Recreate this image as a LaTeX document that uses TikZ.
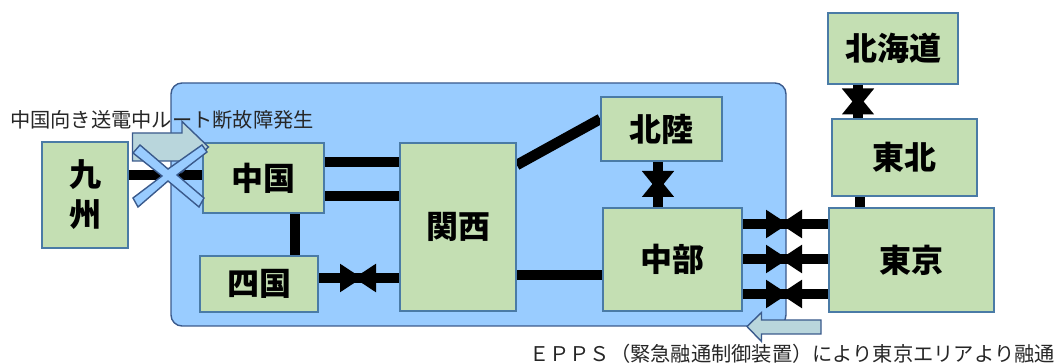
\documentclass[tikz,border=0pt]{standalone}
\usepackage{fontspec}
\setmainfont{Noto Sans CJK JP}
\usetikzlibrary{arrows.meta}
\pgfdeclarelayer{links}
\pgfsetlayers{links,main}
\definecolor{panelblue}{HTML}{99CCFF}
\definecolor{paneledge}{HTML}{3A5A8C}
\definecolor{boxgreen}{HTML}{C4DFB3}
\definecolor{boxedge}{HTML}{4A7BA6}
\definecolor{callout}{HTML}{B9D6DC}
\tikzset{
  x=1pt,y=-1pt,
  panel/.style={draw=paneledge,fill=panelblue,line width=1.4pt,rounded corners=11pt},
  area/.style={draw=boxedge,fill=boxgreen,line width=1.6pt,font=\fontsize{32}{40}\selectfont\bfseries,text=black,inner sep=0pt,align=center},
  link/.style={line width=10.5pt,black},
  tieh/.style={line width=10.5pt,black,-{Triangle[length=22pt,width=27pt]},shorten >=-4pt},
  tiev/.style={line width=10.5pt,black,-{Triangle[length=20pt,width=31pt]},shorten >=-7pt},
  blockarrow/.style={draw=paneledge,fill=callout,line width=1.4pt,line join=miter},
  cross/.style={draw=paneledge,fill=panelblue,line width=1.4pt},
  note/.style={font=\fontsize{20.25}{24}\selectfont,text=black!85,inner sep=0pt},
}
\newcommand{\areabox}[6]{\node[area,minimum width=#4pt-#3pt,minimum height=#6pt-#5pt] (#1) at ({(#3+#4)/2},{(#5+#6)/2}) {#2};}
\begin{document}
\begin{tikzpicture}
\useasboundingbox (0,0) rectangle (1055,363);
\areabox{kyushu}{九\\州}{42}{128}{142}{248}
\areabox{chugoku}{中国}{203}{324}{143}{213}
\areabox{shikoku}{四国}{200}{318}{256}{312}
\areabox{kansai}{関西}{400}{516}{143}{311}
\areabox{hokuriku}{北陸}{601}{722}{97}{161}
\areabox{chubu}{中部}{603}{742}{208}{311}
\areabox{hokkaido}{北海道}{828}{958}{13}{84}
\areabox{tohoku}{東北}{832}{977}{119}{196}
\areabox{tokyo}{東京}{829}{994}{208}{312}
\begin{pgfonlayer}{links}
\draw[panel] (171,83) rectangle (786,326);
\coordinate (m1) at (358,278);
\coordinate (m2) at (658,184);
\coordinate (m3) at (858,101.5);
\draw[link] (kyushu.east|-0,175) -- (chugoku.west|-0,175);
\draw[link] (chugoku.east|-0,162) -- (kansai.west|-0,162);
\draw[link] (chugoku.east|-0,196) -- (kansai.west|-0,196);
\draw[link] (chugoku.south-|295,0) -- (shikoku.north-|295,0);
\draw[link] (shikoku.east|-0,278) -- (kansai.west|-0,278);
\draw[tieh] (shikoku.east|-m1) -- (m1);
\draw[tieh] (kansai.west|-m1) -- (m1);
\draw[link] (kansai.east|-0,165) -- (hokuriku.west|-0,119);
\draw[link] (kansai.east|-0,275) -- (chubu.west|-0,275);
\draw[link] (hokuriku.south-|m2) -- (chubu.north-|m2);
\draw[tiev] (hokuriku.south-|m2) -- (m2);
\draw[tiev] (chubu.north-|m2) -- (m2);
\draw[link] (hokkaido.south-|m3) -- (tohoku.north-|m3);
\draw[tiev] (hokkaido.south-|m3) -- (m3);
\draw[tiev] (tohoku.north-|m3) -- (m3);
\draw[link] (tohoku.south-|860,0) -- (tokyo.north-|860,0);
\foreach \y in {224,259,294}{
  \coordinate (mt) at (784,\y);
  \draw[link] (chubu.east|-mt) -- (tokyo.west|-mt);
  \draw[tieh] (chubu.east|-mt) -- (mt);
  \draw[tieh] (tokyo.west|-mt) -- (mt);
}
\end{pgfonlayer}
\draw[blockarrow] (132.5,133) -- (182,133) -- (182,121.5) -- (208.5,147) -- (182,172) -- (182,161) -- (132.5,161) -- cycle;
\draw[cross] (133,198) -- (162,176) -- (133,153) -- (140,145) -- (168,169) -- (202,145) -- (207,152) -- (177,175) -- (204,198) -- (199,207) -- (168,181) -- (138,207) -- cycle;
\draw[blockarrow] (821,320) -- (761.5,320) -- (761.5,312.5) -- (747,326.5) -- (761.5,341.5) -- (761.5,334) -- (821,334) -- cycle;
\node[note,anchor=west] (cut) at (10,120) {中国向き送電中ルート断故障発生};
\node[note,anchor=east] (epps) at (1055,354) {ＥＰＰＳ（緊急融通制御装置）により東京エリアより融通};
\end{tikzpicture}
\end{document}
